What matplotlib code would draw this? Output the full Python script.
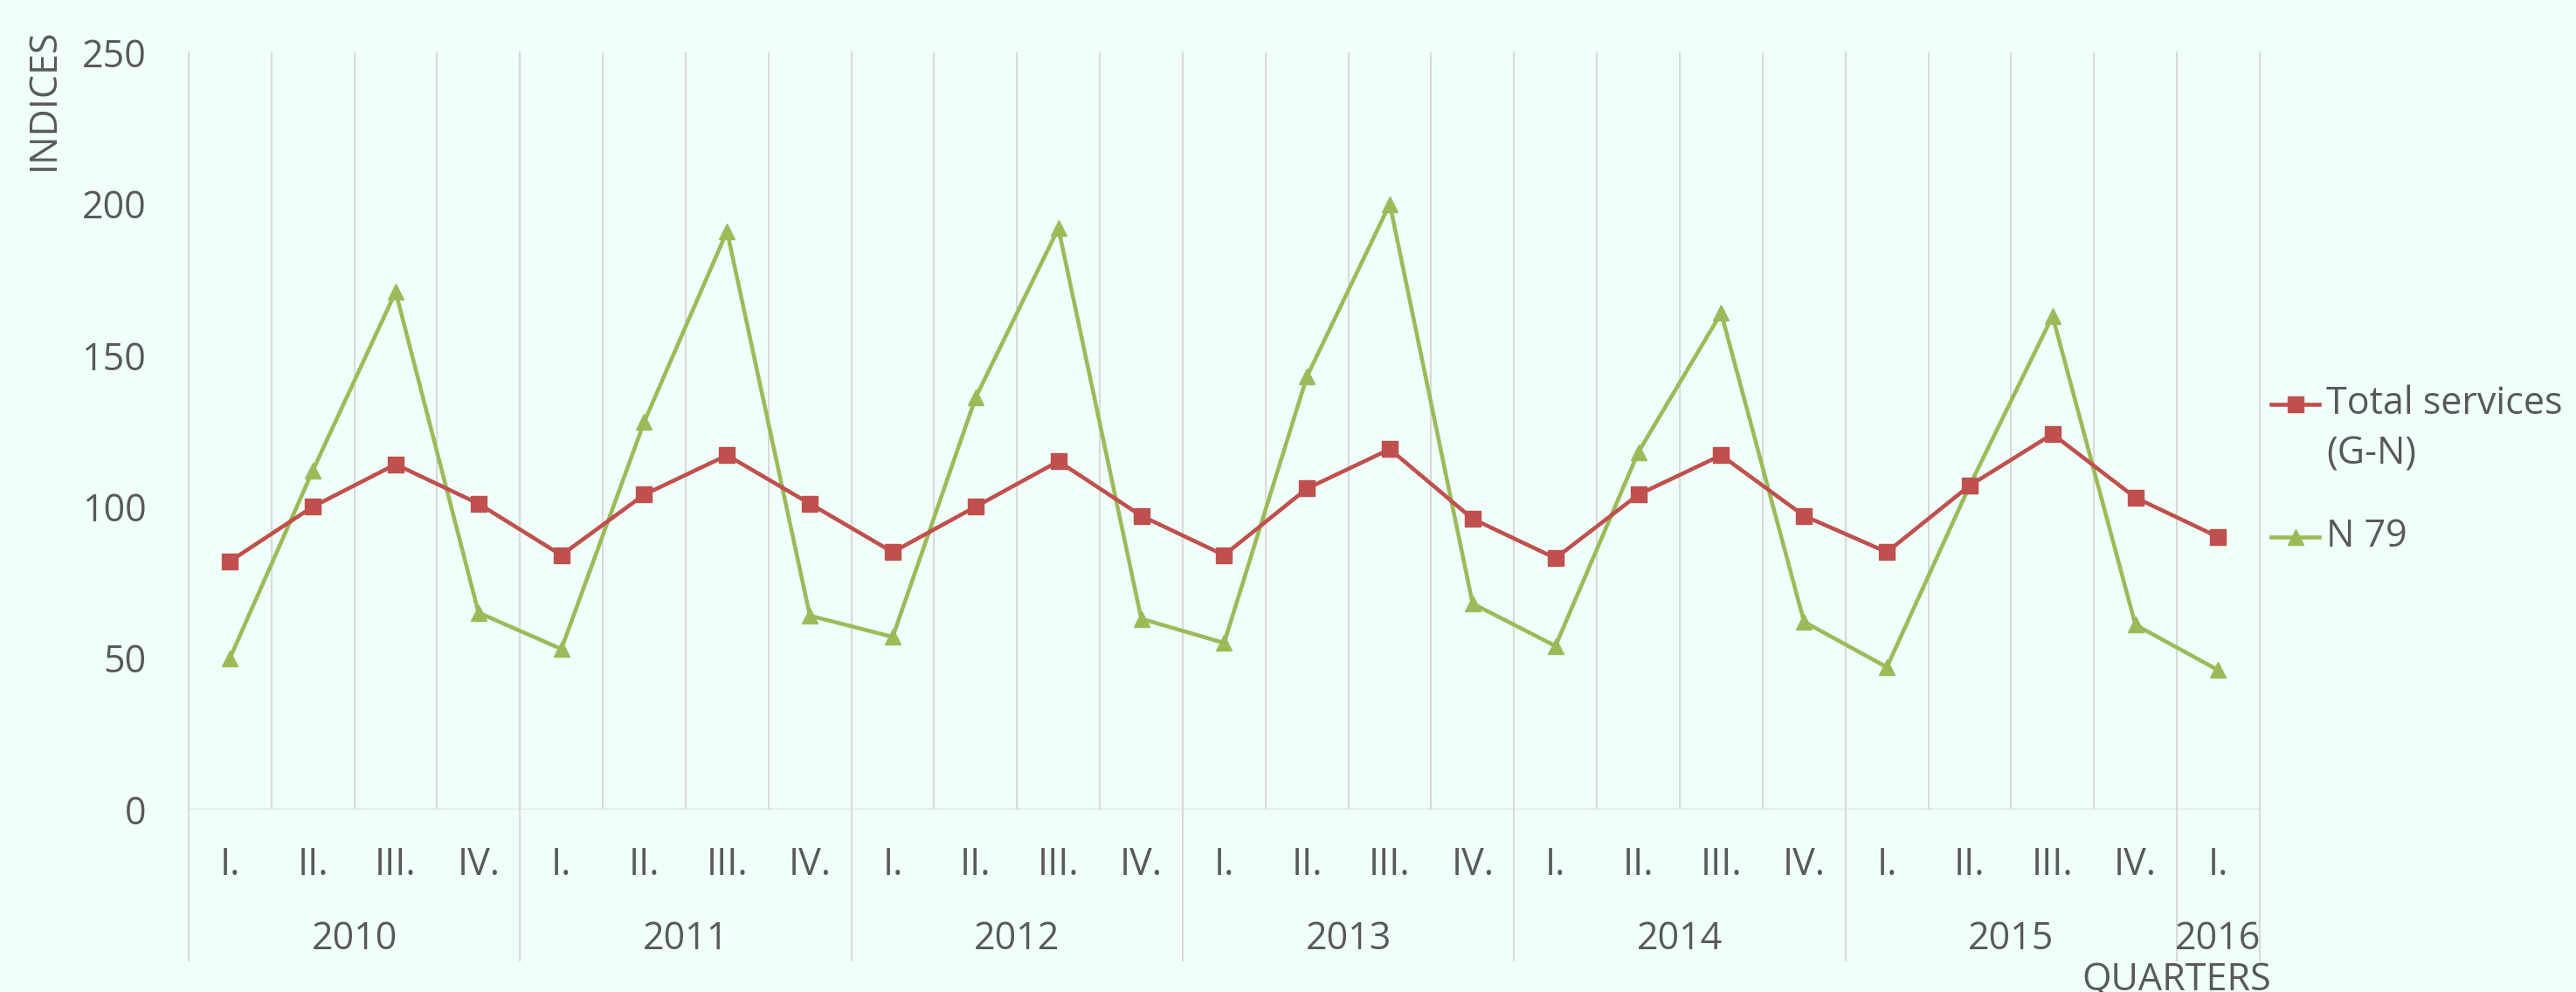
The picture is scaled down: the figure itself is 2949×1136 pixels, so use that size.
import numpy as np
import matplotlib.pyplot as plt
from matplotlib.lines import Line2D
from matplotlib.transforms import blended_transform_factory

plt.rcParams['font.family'] = ['Open Sans', 'DejaVu Sans']

years = ['2010', '2011', '2012', '2013', '2014', '2015', '2016']
quarters = ['I.', 'II.', 'III.', 'IV.'] * 6 + ['I.']

total_services = [82, 100, 114, 101,
                  84, 104, 117, 101,
                  85, 100, 115, 97,
                  84, 106, 119, 96,
                  83, 104, 117, 97,
                  85, 107, 124, 103,
                  90]
n79 = [50, 112, 171, 65,
       53, 128, 191, 64,
       57, 136, 192, 63,
       55, 143, 200, 68,
       54, 118, 164, 62,
       47, 107, 163, 61,
       46]

bg = '#F0FFFA'
grey = '#D9D9D9'
txt = '#595959'
red = '#C0504D'
green = '#9BBB59'
fs = 31

fig = plt.figure(figsize=(29.49, 11.36), dpi=100, facecolor=bg)
ax = fig.add_axes([0.0732, 0.184, 0.8040, 0.763])
ax.set_facecolor(bg)

n = len(quarters)
x = np.arange(n) + 0.5

# quarter grid lines
for b in range(1, n):
    ax.axvline(b, color=grey, lw=1.5, zorder=0)
ax.axhline(0, color=grey, lw=2, zorder=1)

# year separators going below the axis
trans = blended_transform_factory(ax.transData, ax.transAxes)
for b in list(range(0, n, 4)) + [n]:
    ax.plot([b, b], [-0.2, 1], color=grey, lw=1.5, transform=trans, clip_on=False, zorder=0)

ax.plot(x, total_services, color=red, lw=3.3, marker='s', markersize=13.5, zorder=3)
ax.plot(x, n79, color=green, lw=3.3, marker='^', markersize=13.5, zorder=2)

ax.set_xlim(0, n)
ax.set_ylim(0, 250)
ax.set_yticks([0, 50, 100, 150, 200, 250])
ax.set_xticks(x)
ax.set_xticklabels(quarters)
ax.tick_params(axis='both', length=0, labelsize=fs, colors=txt)
ax.tick_params(axis='x', pad=30)
ax.tick_params(axis='y', pad=35)
for s in ax.spines.values():
    s.set_visible(False)

# year labels
for i, yr in enumerate(years):
    start = i * 4
    end = min(start + 4, n)
    ax.text((start + end) / 2, -0.172, yr, transform=trans, ha='center', va='center',
            fontsize=fs, color=txt)

fig.text(0.017, 0.90, 'INDICES', rotation=90, ha='center', va='center', fontsize=fs, color=txt)
fig.text(0.845, 0.012, 'QUARTERS', ha='center', va='center', fontsize=fs, color=txt)

# legend drawn by hand so the marker sits on the first text line
W, H = 2949.0, 1136.0
legend_rows = [(463, red, 's', 'Total services'), (615, green, '^', 'N 79')]
for ypx, col, mk, label in legend_rows:
    yf = 1 - ypx / H
    fig.add_artist(Line2D([2600 / W, 2655 / W], [yf, yf], color=col, lw=3.3))
    fig.add_artist(Line2D([2627.5 / W], [yf], color=col, marker=mk, markersize=13.5))
    fig.text(2663 / W, yf, label, ha='left', va='center', fontsize=fs, color=txt)
fig.text(2663 / W, 1 - 520 / H, '(G-N)', ha='left', va='center', fontsize=fs, color=txt)

fig.savefig('out.png', dpi=100, facecolor=bg)
